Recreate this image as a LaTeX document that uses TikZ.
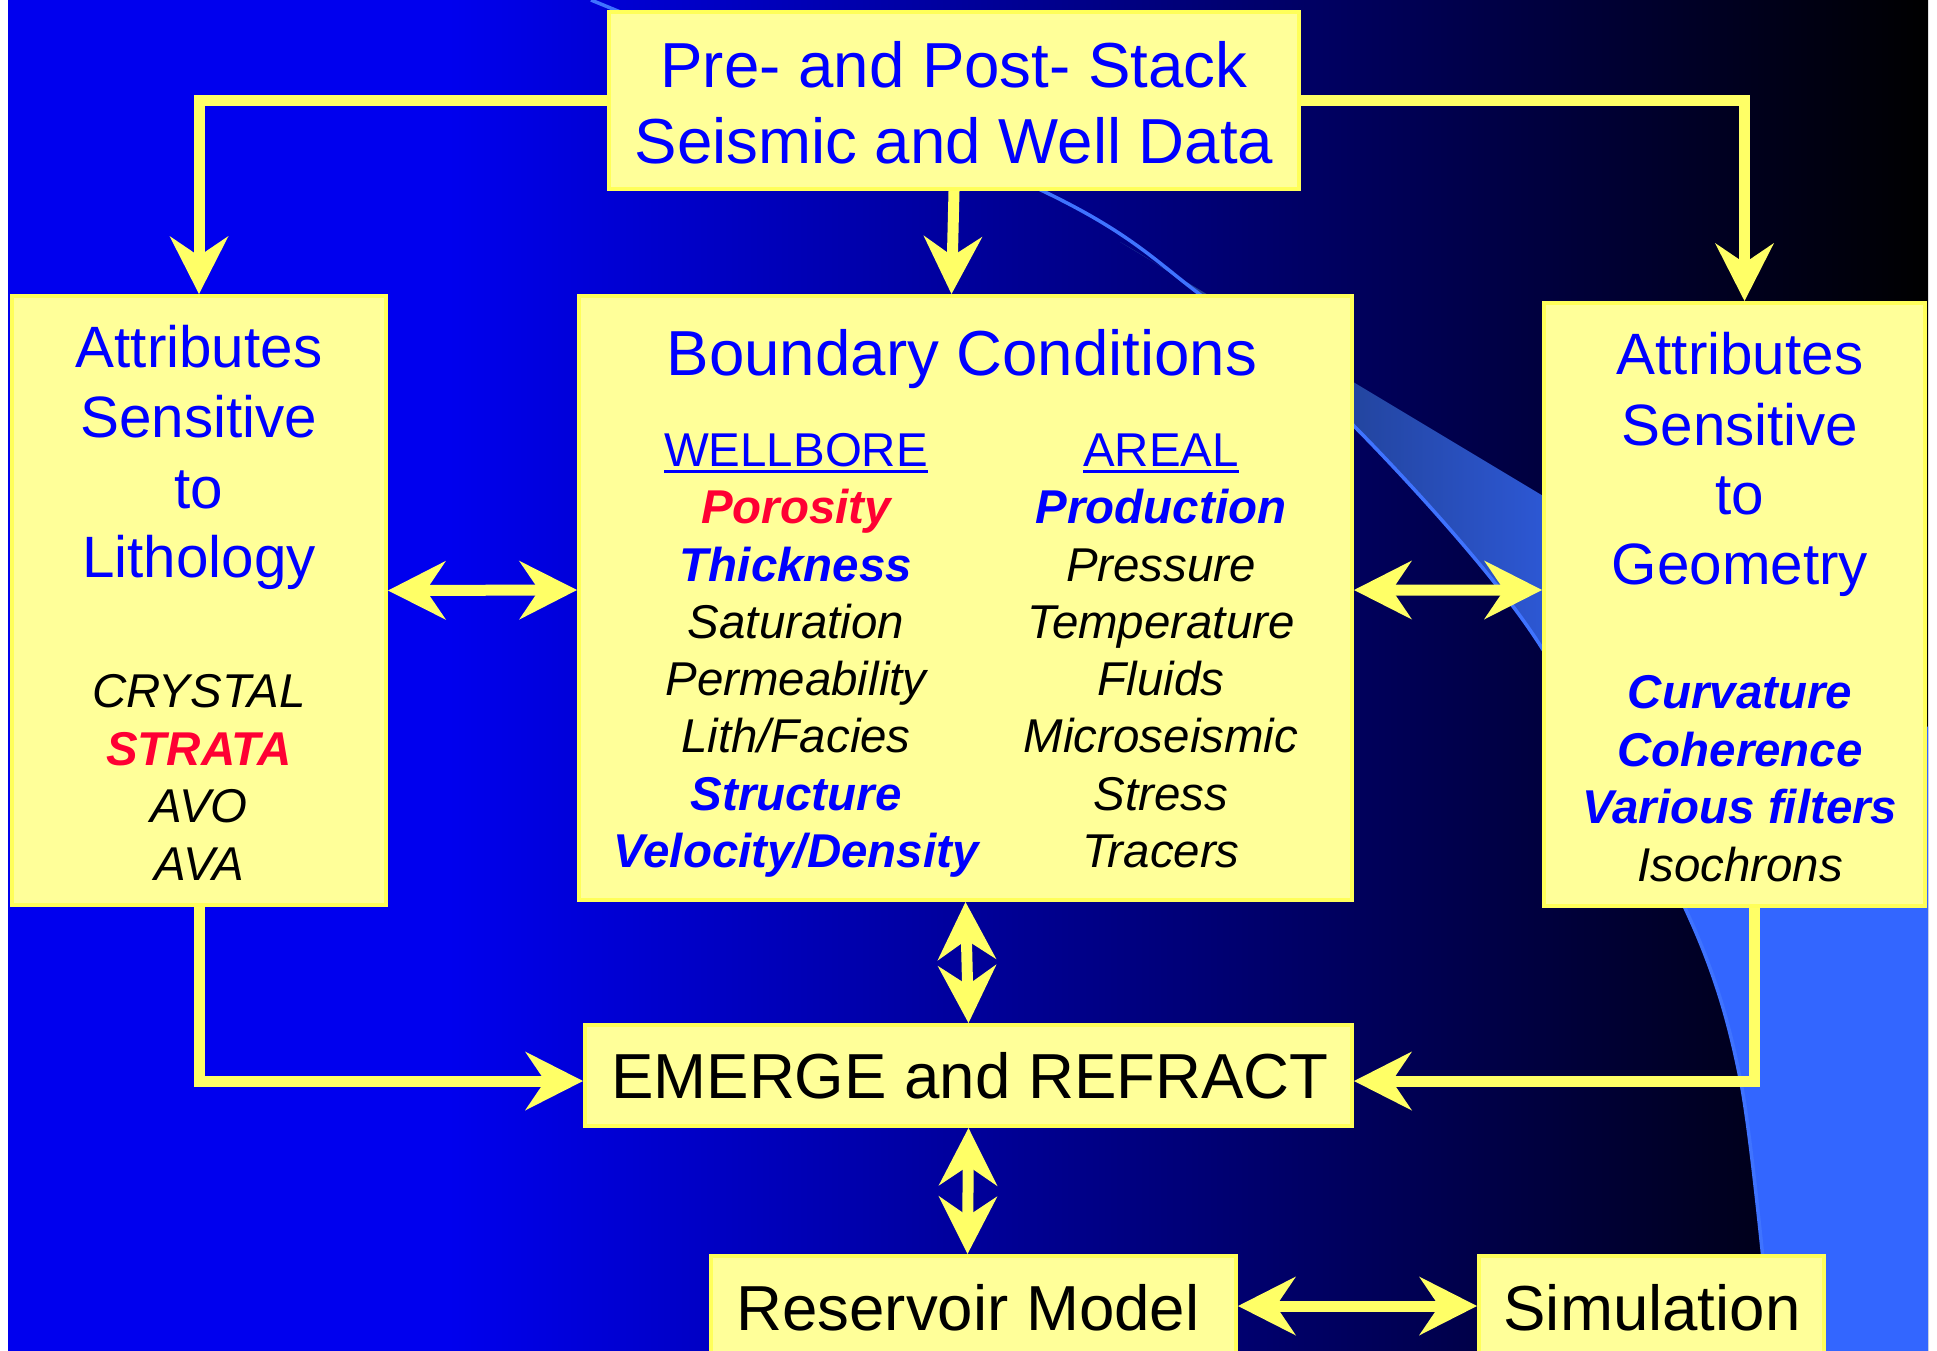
\documentclass[tikz,border=0pt]{standalone}
\usepackage{fontspec}
\setmainfont{Liberation Sans}
\usepackage{tikz}
\usetikzlibrary{arrows.meta}
\pgfdeclarelayer{bglayer}
\pgfdeclarelayer{edgelayer}
\pgfdeclarelayer{nodelayer}
\pgfsetlayers{bglayer,edgelayer,nodelayer,main}

\definecolor{bgblue}{RGB}{0,0,238}
\definecolor{bgmid}{RGB}{0,0,165}
\definecolor{banddark}{RGB}{31,60,150}
\definecolor{bandmid}{RGB}{35,69,160}
\definecolor{bandlight}{RGB}{44,86,208}
\definecolor{bandblue}{RGB}{51,102,255}
\definecolor{bandline}{RGB}{63,115,255}
\definecolor{boxfill}{RGB}{255,255,153}
\definecolor{boxedge}{RGB}{255,255,90}
\definecolor{flowyellow}{RGB}{255,255,102}
\definecolor{textblue}{RGB}{0,0,255}
\definecolor{textred}{RGB}{255,0,51}

\pgfdeclarehorizontalshading{bandshade}{100bp}{color(0bp)=(banddark); color(25bp)=(banddark); color(39.5bp)=(bandmid); color(50.4bp)=(bandlight); color(59.7bp)=(bandblue); color(100bp)=(bandblue)}

\newcommand{\ulword}[1]{\setbox0=\hbox{#1}\rlap{\rule[-2pt]{\wd0}{0.9pt}}\box0}

\tikzstyle{none}=[inner sep=0pt]
\tikzstyle{box}=[rectangle, fill=boxfill, draw=boxedge, line width=0.4mm, inner sep=0pt]
\tikzstyle{bigtext}=[inner sep=0pt, anchor=base, font=\fontsize{18.1}{21.6}\selectfont]
\tikzstyle{sidetext}=[inner sep=0pt, anchor=base, text=textblue, font=\fontsize{16.6}{20}\selectfont]
\tikzstyle{colhead}=[inner sep=0pt, anchor=base, text=textblue, font=\fontsize{13.5}{16}\selectfont]
\tikzstyle{plainitem}=[inner sep=0pt, anchor=base, font=\fontsize{13.5}{16}\selectfont\itshape]
\tikzstyle{blueitem}=[inner sep=0pt, anchor=base, text=textblue, font=\fontsize{13.5}{16}\selectfont\bfseries\itshape]
\tikzstyle{reditem}=[blueitem, text=textred]
\tikzstyle{flow}=[draw=flowyellow, line width=1.1mm, -{Stealth[length=5.8mm, width=5.9mm, inset=2mm, line width=0pt]}]
\tikzstyle{twoway}=[draw=flowyellow, line width=1.1mm, {Stealth[length=5.8mm, width=5.9mm, inset=2mm, line width=0pt]}-{Stealth[length=5.8mm, width=5.9mm, inset=2mm, line width=0pt]}]

\begin{document}
\begin{tikzpicture}
	\useasboundingbox (0, 0) rectangle (19.37, -13.51);
	\begin{pgfonlayer}{bglayer}
		% backdrop: flat blue fading to black
		\fill [color=bgblue] (0.08, 0) rectangle (4.5, -13.51);
		\shade [left color=bgblue, middle color=bgmid, right color=black] (4.49, 0) rectangle (19.28, -13.51);
		% light sweep on the right
		\shade [shading=bandshade] plot [smooth] coordinates {(11.20, -2.42) (11.98, -2.93) (13.55, -4.27) (15.30, -6.30) (16.85, -9.08) (17.41, -10.83) (17.72, -13.51)} -- (19.28, -13.51) -- (19.28, -7.27) -- cycle;
		\draw [color=bandline, line width=0.35mm] plot [smooth] coordinates {(5.91, 0) (10.45, -1.92) (11.98, -2.93) (13.55, -4.27) (15.30, -6.30) (16.85, -9.08) (17.41, -10.83) (17.72, -13.51)};
	\end{pgfonlayer}
	\begin{pgfonlayer}{nodelayer}
		\node [style=box, minimum width=6.90cm, minimum height=1.77cm] (0) at (9.54, -1.005) {};
		\node [style=box, minimum width=3.74cm, minimum height=6.09cm] (1) at (1.99, -6.005) {};
		\node [style=box, minimum width=7.73cm, minimum height=6.04cm] (2) at (9.655, -5.98) {};
		\node [style=box, minimum width=3.81cm, minimum height=6.03cm] (3) at (17.345, -6.045) {};
		\node [style=box, minimum width=7.67cm, minimum height=1.01cm] (4) at (9.685, -10.755) {};
		\node [style=box, minimum width=5.25cm, minimum height=1.00cm] (5) at (9.735, -13.06) {};
		\node [style=box, minimum width=3.45cm, minimum height=1.00cm] (6) at (16.515, -13.06) {};
		\node [style=bigtext, text=textblue] (7) at (9.54, -0.87) {Pre- and Post- Stack};
		\node [style=bigtext, text=textblue] (8) at (9.54, -1.63) {Seismic and Well Data};
		\node [style=sidetext] (9) at (1.99, -3.67) {Attributes};
		\node [style=sidetext] (10) at (1.99, -4.375) {Sensitive};
		\node [style=sidetext] (11) at (1.99, -5.08) {to};
		\node [style=sidetext] (12) at (1.99, -5.775) {Lithology};
		\node [style=plainitem] (13) at (1.99, -7.075) {CRYSTAL};
		\node [style=reditem] (14) at (1.99, -7.655) {STRATA};
		\node [style=plainitem] (15) at (1.99, -8.225) {AVO};
		\node [style=plainitem] (16) at (1.99, -8.805) {AVA};
		\node [style=bigtext, text=textblue] (17) at (9.62, -3.75) {Boundary Conditions};
		\node [style=colhead] (18) at (7.96, -4.66) {\ulword{WELLBORE}};
		\node [style=colhead] (19) at (11.61, -4.66) {\ulword{AREAL}};
		\node [style=reditem] (20) at (7.96, -5.23) {Porosity};
		\node [style=blueitem] (21) at (7.96, -5.81) {Thickness};
		\node [style=plainitem] (22) at (7.96, -6.38) {Saturation};
		\node [style=plainitem] (23) at (7.96, -6.95) {Permeability};
		\node [style=plainitem] (24) at (7.96, -7.52) {Lith/Facies};
		\node [style=blueitem] (25) at (7.96, -8.10) {Structure};
		\node [style=blueitem] (26) at (7.96, -8.67) {Velocity/Density};
		\node [style=blueitem] (27) at (11.61, -5.23) {Production};
		\node [style=plainitem] (28) at (11.61, -5.81) {Pressure};
		\node [style=plainitem] (29) at (11.61, -6.38) {Temperature};
		\node [style=plainitem] (30) at (11.61, -6.95) {Fluids};
		\node [style=plainitem] (31) at (11.61, -7.52) {Microseismic};
		\node [style=plainitem] (32) at (11.61, -8.10) {Stress};
		\node [style=plainitem] (33) at (11.61, -8.67) {Tracers};
		\node [style=sidetext] (34) at (17.40, -3.74) {Attributes};
		\node [style=sidetext] (35) at (17.40, -4.45) {Sensitive};
		\node [style=sidetext] (36) at (17.40, -5.145) {to};
		\node [style=sidetext] (37) at (17.40, -5.845) {Geometry};
		\node [style=blueitem] (38) at (17.40, -7.08) {Curvature};
		\node [style=blueitem] (39) at (17.40, -7.665) {Coherence};
		\node [style=blueitem] (40) at (17.40, -8.23) {Various filters};
		\node [style=plainitem] (41) at (17.40, -8.81) {Isochrons};
		\node [style=bigtext] (42) at (9.70, -10.98) {EMERGE and REFRACT};
		\node [style=bigtext] (43) at (9.68, -13.30) {Reservoir Model};
		\node [style=bigtext] (44) at (16.52, -13.30) {Simulation};
	\end{pgfonlayer}
	\begin{pgfonlayer}{edgelayer}
		\draw [style=flow] (0.west) -| (1.north);
		\draw [style=flow] (0.east) -| ([xshift=1mm]3.north);
		\draw [style=flow] (0.south) to ([xshift=-1.4mm]2.north);
		\draw [style=twoway] ([yshift=1mm]1.east) to ([yshift=0.8mm]2.west);
		\draw [style=twoway] ([yshift=0.8mm]2.east) to ([yshift=1.45mm]3.west);
		\draw [style=twoway] (2.south) to (4.north);
		\draw [style=flow] (1.south) |- ([yshift=-0.55mm]4.west);
		\draw [style=flow] ([xshift=2mm]3.south) |- ([yshift=-0.55mm]4.east);
		\draw [style=twoway] (4.south) to ([xshift=-0.6mm]5.north);
		\draw [style=twoway] (5.east) to (6.west);
	\end{pgfonlayer}
\end{tikzpicture}
\end{document}
